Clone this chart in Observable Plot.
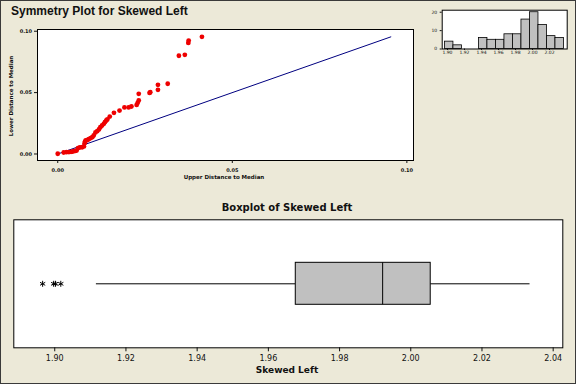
<!DOCTYPE html>
<html><head><meta charset="utf-8">
<script src="https://cdn.jsdelivr.net/npm/d3@7"></script>
<script src="https://cdn.jsdelivr.net/npm/@observablehq/plot@0.6"></script>
<style>
html,body{margin:0;padding:0;background:#ECE9D8;}
#root{position:relative;width:576px;height:384px;background:#ECE9D8;overflow:hidden;}
#root > *{position:absolute;}
#border{left:0;top:0;width:576px;height:384px;box-sizing:border-box;border:1px solid #3a3a3a;pointer-events:none;}
</style></head><body><div id="root"></div>
<script>
// ---- Symmetry plot data (pairs of distances to the median) ----
const upperDist = [0.0000,0.0017,0.0025,0.0032,0.0038,0.0042,0.0046,0.0050,0.0054,0.0058,
  0.0063,0.0070,0.0075,0.0077,0.0078,0.0080,0.0085,0.0089,0.0094,0.0099,
  0.0103,0.0108,0.0113,0.0118,0.0122,0.0127,0.0132,0.0135,0.0139,0.0142,
  0.0149,0.0161,0.0177,0.0191,0.0203,0.0211,0.0226,0.0229,0.0232,0.0232,
  0.0263,0.0265,0.0287,0.0287,0.0315,0.0347,0.0364,0.0374,0.0375,0.0413];
const lowerDist = [0.0002,0.0012,0.0015,0.0016,0.0018,0.0020,0.0023,0.0025,0.0028,0.0048,
  0.0053,0.0055,0.0062,0.0088,0.0100,0.0110,0.0114,0.0121,0.0129,0.0137,
  0.0151,0.0175,0.0186,0.0200,0.0218,0.0232,0.0246,0.0259,0.0273,0.0281,
  0.0305,0.0335,0.0354,0.0379,0.0379,0.0387,0.0400,0.0417,0.0436,0.0490,
  0.0497,0.0503,0.0523,0.0563,0.0572,0.0800,0.0808,0.0905,0.0924,0.0954];
const symTicks = [0, 0.05, 0.10];

// ---- Histogram data ----
const histEdges = [1.897,1.907,1.917,1.927,1.937,1.947,1.957,1.967,1.977,1.987,1.997,2.007,2.017,2.027,2.037];
const histCounts = [4,2,0,0,6,5,5,8,8,16,20,13,7,6];
const histXTicks = [1.90,1.92,1.94,1.96,1.98,2.00,2.02];
const histYTicks = [0,10,20];

// ---- Boxplot data ----
const boxQ1 = 1.9677, boxMedian = 1.9921, boxQ3 = 2.0056;
const whiskerLow = 1.9117, whiskerHigh = 2.0335;
const outliers = [1.8966, 1.8997, 1.9002, 1.9017];
const boxTicks = [1.90,1.92,1.94,1.96,1.98,2.00,2.02,2.04];

const root = document.getElementById("root");
const f2 = d3.format(".2f");

// Symmetry plot
const symPts = upperDist.map((u, i) => ({u, l: lowerDist[i]}));
const maxL = d3.max(lowerDist);
const refLine = [{u: 0, l: 0}, {u: maxL, l: maxL}];
const sym = Plot.plot({
  width: 430, height: 190,
  marginLeft: 37, marginRight: 17, marginTop: 29, marginBottom: 30,
  style: {background: "transparent", fontFamily: "DejaVu Sans", fontSize: "5px", fontWeight: "bold", color: "#111"},
  x: {domain: [-0.0058, 0.1019], label: null},
  y: {domain: [-0.0053, 0.1014], label: null},
  marks: [
    Plot.frame({fill: "white"}),
    Plot.line(refLine, {x: "u", y: "l", stroke: "#000080", strokeWidth: 1}),
    Plot.dot(symPts, {x: "u", y: "l", r: 2.4, fill: "#EE0000", stroke: "none"}),
    Plot.frame({stroke: "black"}),
    Plot.axisX(symTicks, {tickFormat: f2, tickSize: 3, tickPadding: 4.5, label: null}),
    Plot.axisY(symTicks, {tickFormat: f2, tickSize: 3, tickPadding: 2.5, label: null})
  ]
});
sym.style.left = "0px"; sym.style.top = "0px";
root.appendChild(sym);

// Histogram
const bins = histCounts.map((c, i) => ({x1: histEdges[i], x2: histEdges[i + 1], count: c})).filter(d => d.count > 0);
const hist = Plot.plot({
  width: 146, height: 70,
  marginLeft: 11.7, marginRight: 9.3, marginTop: 9.7, marginBottom: 21.5,
  style: {background: "transparent", fontFamily: "DejaVu Sans", fontSize: "4.5px", color: "#111"},
  x: {domain: [1.8938, 2.0408], label: null},
  y: {domain: [0, 21.1], label: null},
  marks: [
    Plot.frame({fill: "white"}),
    Plot.rectY(bins, {x1: "x1", x2: "x2", y: "count", fill: "#C0C0C0", stroke: "black", strokeWidth: 0.8}),
    Plot.frame({stroke: "black"}),
    Plot.axisX(histXTicks, {tickFormat: f2, tickSize: 1.5, tickPadding: 0.5, label: null}),
    Plot.axisY(histYTicks, {tickSize: 2, tickPadding: 3, label: null})
  ]
});
hist.style.left = "430px"; hist.style.top = "0px";
root.appendChild(hist);

// Boxplot
const box = Plot.plot({
  width: 576, height: 194,
  marginLeft: 13.3, marginRight: 13.7, marginTop: 29.3, marginBottom: 36.7,
  style: {background: "transparent", fontFamily: "DejaVu Sans", fontSize: "8px", color: "#111"},
  x: {domain: [1.8885, 2.0427], label: null},
  y: {domain: [0, 1], axis: null},
  marks: [
    Plot.frame({fill: "white"}),
    Plot.ruleY([0.5], {x1: whiskerLow, x2: boxQ1, stroke: "black"}),
    Plot.ruleY([0.5], {x1: boxQ3, x2: whiskerHigh, stroke: "black"}),
    Plot.rect([{q1: boxQ1, q3: boxQ3}], {x1: "q1", x2: "q3", y1: 0.336, y2: 0.664, fill: "#C0C0C0", stroke: "black"}),
    Plot.ruleX([boxMedian], {y1: 0.336, y2: 0.664, stroke: "black"}),
    Plot.dot(outliers, {x: d => d, y: 0.5, symbol: "asterisk", r: 2.8, stroke: "black", strokeWidth: 1}),
    Plot.frame({stroke: "black"}),
    Plot.axisX(boxTicks, {tickFormat: f2, tickSize: 4, tickPadding: 3.5, label: null})
  ]
});
box.style.left = "0px"; box.style.top = "190px";
root.appendChild(box);

// Titles and axis labels
const NS = "http://www.w3.org/2000/svg";
const over = document.createElementNS(NS, "svg");
over.setAttribute("width", 576); over.setAttribute("height", 384);
over.style.left = "0px"; over.style.top = "0px"; over.style.pointerEvents = "none";
function addText(str, x, y, opts) {
  const t = document.createElementNS(NS, "text");
  t.textContent = str;
  t.setAttribute("x", x); t.setAttribute("y", y);
  t.setAttribute("font-family", opts.family || "DejaVu Sans");
  t.setAttribute("font-size", opts.size);
  t.setAttribute("font-weight", opts.weight || "bold");
  t.setAttribute("text-anchor", opts.anchor || "start");
  t.setAttribute("fill", "#111");
  if (opts.transform) t.setAttribute("transform", opts.transform);
  over.appendChild(t);
}
addText("Symmetry Plot for Skewed Left", 11, 15, {family: "Liberation Sans", size: 12});
addText("Upper Distance to Median", 224, 179, {size: 5.5, anchor: "middle"});
addText("Lower Distance to Median", 0, 0, {size: 5.5, anchor: "middle", transform: "translate(13,96) rotate(-90)"});
addText("Boxplot of Skewed Left", 287, 210.7, {size: 10, anchor: "middle"});
addText("Skewed Left", 287, 372.7, {size: 9, anchor: "middle"});
root.appendChild(over);

const border = document.createElement("div");
border.id = "border";
root.appendChild(border);
</script>
</body></html>
